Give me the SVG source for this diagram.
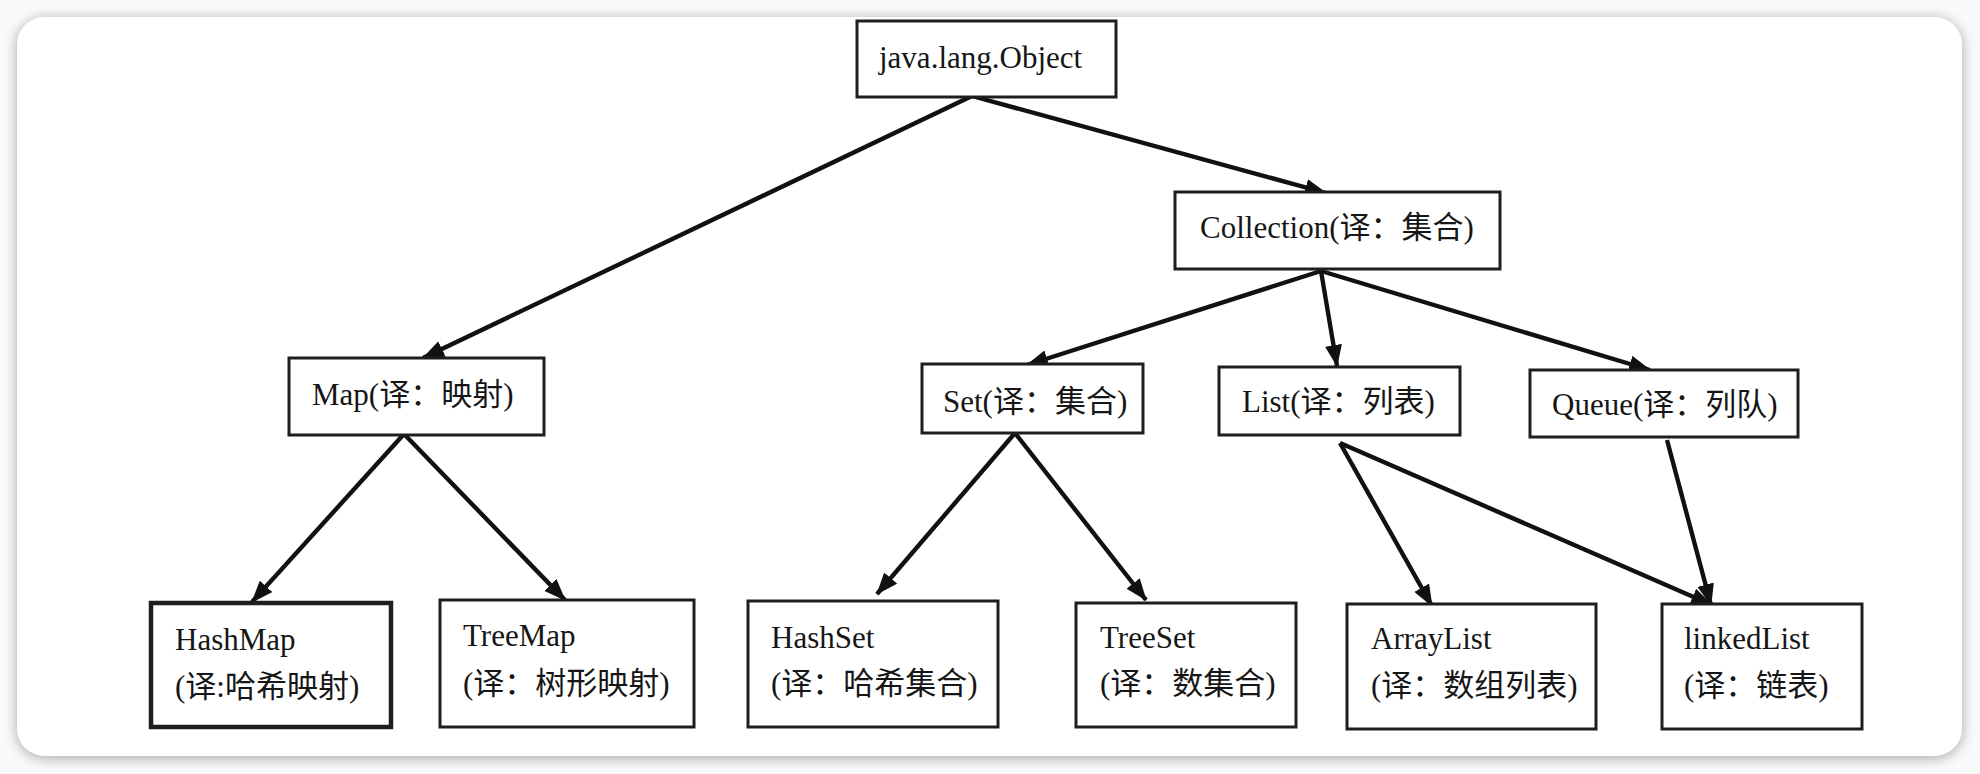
<svg xmlns="http://www.w3.org/2000/svg" width="1980" height="774" viewBox="0 0 1980 774">
<style>
.box{fill:#fff;stroke:#1e1e1e;stroke-width:3}
.thick{stroke-width:4.5}
.t{font-family:"Liberation Serif","Noto Sans CJK SC",serif;font-size:31px;fill:#161616}
.c{stroke:#111;stroke-width:4.4;fill:none;marker-end:url(#ah)}
</style>
<defs>
<filter id="sh" x="-5%" y="-10%" width="110%" height="120%">
<feGaussianBlur in="SourceAlpha" stdDeviation="7"/>
<feOffset dx="0" dy="2" result="b"/>
<feComponentTransfer><feFuncA type="linear" slope="0.35"/></feComponentTransfer>
<feMerge><feMergeNode/><feMergeNode in="SourceGraphic"/></feMerge>
</filter>
<marker id="ah" markerUnits="userSpaceOnUse" markerWidth="22" markerHeight="17" viewBox="0 0 22 17" refX="21" refY="8.5" orient="auto">
<path d="M0,0 L22,8.5 L0,17 z" fill="#111"/>
</marker>
</defs>
<rect width="1980" height="774" fill="#fafafa"/>
<rect x="17" y="17" width="1945" height="739" rx="28" ry="28" fill="#fff" filter="url(#sh)"/>

<g id="connectors">
<line class="c" x1="972" y1="96" x2="423" y2="358"/>
<line class="c" x1="972" y1="96" x2="1326" y2="193"/>
<line class="c" x1="1321" y1="271" x2="1027" y2="365"/>
<line class="c" x1="1321" y1="271" x2="1337" y2="366"/>
<line class="c" x1="1321" y1="271" x2="1650" y2="370"/>
<line class="c" x1="404" y1="434" x2="252" y2="602"/>
<line class="c" x1="404" y1="434" x2="565" y2="600"/>
<line class="c" x1="1015" y1="433" x2="877" y2="594"/>
<line class="c" x1="1015" y1="433" x2="1146" y2="600"/>
<line class="c" x1="1340" y1="443" x2="1432" y2="606"/>
<line class="c" x1="1340" y1="443" x2="1712" y2="605"/>
<line class="c" x1="1667" y1="440" x2="1711" y2="605"/>
</g>

<g id="object">
<rect class="box" x="857" y="21" width="259" height="76"/>
<text class="t" x="879" y="68" font-size="32">java.lang.Object</text>
</g>
<g id="collection">
<rect class="box" x="1175" y="192" width="325" height="77"/>
<text class="t" x="1200" y="238">Collection(译：集合)</text>
</g>
<g id="map">
<rect class="box" x="289" y="358" width="255" height="77"/>
<text class="t" x="312" y="405">Map(译：映射)</text>
</g>
<g id="set">
<rect class="box" x="922" y="364" width="221" height="69"/>
<text class="t" x="943" y="412">Set(译：集合)</text>
</g>
<g id="list">
<rect class="box" x="1219" y="367" width="241" height="68"/>
<text class="t" x="1242" y="412">List(译：列表)</text>
</g>
<g id="queue">
<rect class="box" x="1530" y="370" width="268" height="67"/>
<text class="t" x="1552" y="415">Queue(译：列队)</text>
</g>
<g id="hashmap">
<rect class="box thick" x="151" y="603" width="240" height="124"/>
<text class="t" x="175" y="650">HashMap</text>
<text class="t" x="175" y="697">(译:哈希映射)</text>
</g>
<g id="treemap">
<rect class="box" x="440" y="600" width="254" height="127"/>
<text class="t" x="463" y="646">TreeMap</text>
<text class="t" x="463" y="694">(译：树形映射)</text>
</g>
<g id="hashset">
<rect class="box" x="748" y="601" width="250" height="126"/>
<text class="t" x="771" y="648">HashSet</text>
<text class="t" x="771" y="694">(译：哈希集合)</text>
</g>
<g id="treeset">
<rect class="box" x="1076" y="603" width="220" height="124"/>
<text class="t" x="1100" y="648">TreeSet</text>
<text class="t" x="1100" y="694">(译：数集合)</text>
</g>
<g id="arraylist">
<rect class="box" x="1347" y="604" width="249" height="125"/>
<text class="t" x="1371" y="649">ArrayList</text>
<text class="t" x="1371" y="696">(译：数组列表)</text>
</g>
<g id="linkedlist">
<rect class="box" x="1662" y="604" width="200" height="125"/>
<text class="t" x="1684" y="649">linkedList</text>
<text class="t" x="1684" y="696">(译：链表)</text>
</g>
</svg>
